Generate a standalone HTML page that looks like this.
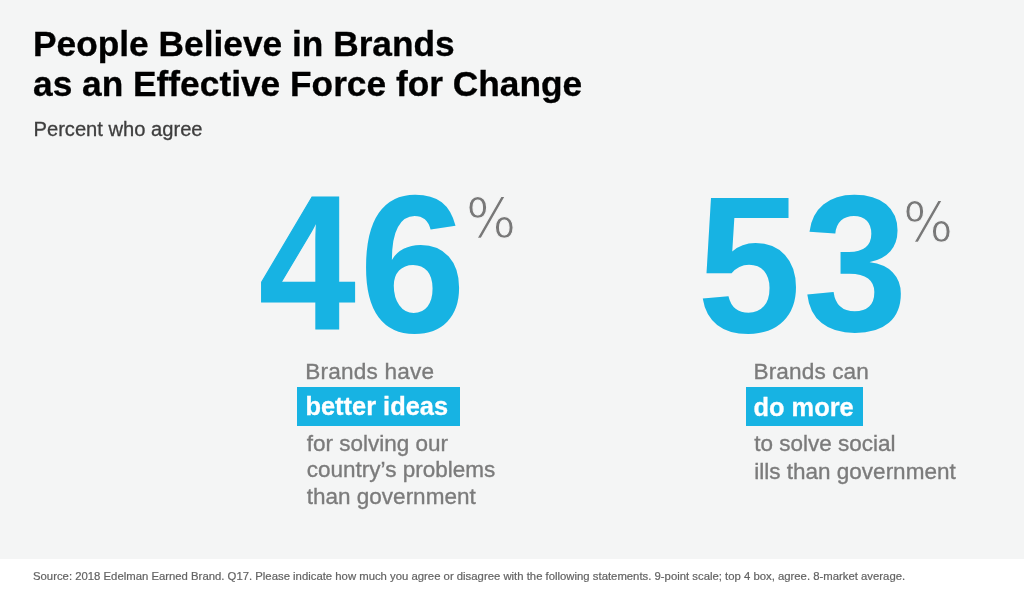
<!DOCTYPE html>
<html lang="en">
<head>
<meta charset="utf-8">
<title>People Believe in Brands as an Effective Force for Change</title>
<style>
html,body{margin:0;padding:0;}
body{width:1024px;height:602px;overflow:hidden;background:#f4f5f5;font-family:"Liberation Sans",Arial,Helvetica,sans-serif;position:relative;}
.abs{position:absolute;white-space:nowrap;margin:0;display:block;}
.stat{position:static;margin:0;}
h1{font-size:35.3px;line-height:40.3px;font-weight:bold;color:#000;-webkit-text-stroke:0.3px #000;left:33px;top:23.8px;}
.sub{font-size:20.15px;line-height:24px;color:#3e3e3e;-webkit-text-stroke:0.3px #3e3e3e;left:33.5px;top:117.2px;}
.big{font-size:187px;line-height:187px;font-weight:bold;color:#17b3e3;transform-origin:0 0;}
.pct{font-family:"DejaVu Sans","Liberation Sans",sans-serif;font-size:50px;line-height:50px;color:#787878;-webkit-text-stroke:1px #f4f5f5;transform-origin:0 0;}
.txt{font-size:22.5px;line-height:26.7px;color:#7b7b7b;-webkit-text-stroke:0.35px #7b7b7b;}
.lead{font-size:22.6px;letter-spacing:0.2px;line-height:27px;color:#7b7b7b;-webkit-text-stroke:0.35px #7b7b7b;}
.hl{background:#17b3e3;color:#fff;-webkit-text-stroke:0.3px #fff;font-weight:bold;font-size:25.4px;line-height:38.4px;height:38.5px;box-sizing:border-box;}
.footer{position:absolute;left:0;top:558.8px;width:1024px;height:44px;background:#fff;}
.src{font-size:11.33px;line-height:14px;color:#636363;-webkit-text-stroke:0.2px #636363;left:33px;top:569.4px;}
</style>
</head>
<body>
<h1 class="abs">People Believe in Brands<br>as an Effective Force for Change</h1>
<p class="abs sub">Percent who agree</p>

<div class="stat"><span class="abs big" style="left:258.64px;top:167.59px;transform:scale(0.9277,1.0196);-webkit-text-stroke:1.2px #17b3e3;">4</span><span class="abs big" style="left:358.77px;top:165.71px;transform:scale(1.0289,1.0507);">6</span><span class="abs pct" style="left:465.74px;top:190.59px;transform:scale(1.0536,1.1036);">%</span></div>
<div class="abs lead" style="left:305.2px;top:357.6px;">Brands have</div>
<div class="abs hl" style="left:297.2px;top:387px;width:163.2px;padding-left:8.3px;">better ideas</div>
<div class="abs txt" style="left:306.8px;top:430.5px;line-height:26.6px;">for solving our<br>country’s problems<br>than government</div>

<div class="stat"><span class="abs big" style="left:696.75px;top:167.74px;transform:scale(1.0015,1.0397);">5</span><span class="abs big" style="left:802.50px;top:166.67px;transform:scale(1.0059,1.0399);">3</span><span class="abs pct" style="left:902.74px;top:194.59px;transform:scale(1.0536,1.1036);">%</span></div>
<div class="abs lead" style="left:753.5px;top:357.8px;letter-spacing:0.12px;">Brands can</div>
<div class="abs hl" style="left:745.7px;top:387px;width:117.8px;padding-left:7.8px;line-height:40.4px;">do more</div>
<div class="abs txt" style="left:754.3px;top:429.8px;line-height:28px;">to solve social<br>ills than government</div>

<div class="footer"></div>
<p class="abs src">Source: 2018 Edelman Earned Brand. Q17. Please indicate how much you agree or disagree with the following statements. 9-point scale; top 4 box, agree. 8-market average.</p>
</body>
</html>
